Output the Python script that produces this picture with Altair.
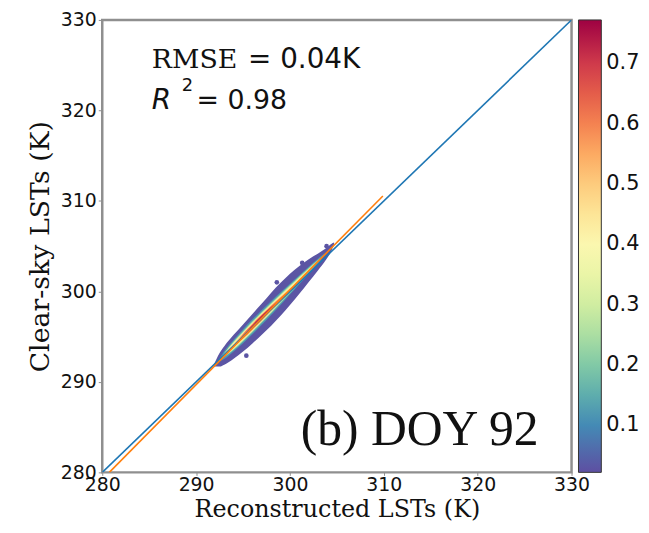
import altair as alt
import pandas as pd

# ---------------- data ----------------
x_ticks = [280, 290, 300, 310, 320, 330]
y_ticks = [280, 290, 300, 310, 320, 330]
cbar_ticks = [0.1, 0.2, 0.3, 0.4, 0.5, 0.6, 0.7]
cbar_domain = [0.022, 0.772]

# outer (lowest density) envelope of the scatter cloud
outer_level = 0.03
outer_x = [291.9, 292.5, 293.0, 294.0, 295.0, 296.0, 297.0, 298.0, 299.0, 300.0, 301.0, 302.0, 303.0, 303.8, 304.4, 304.7]
outer_hi = [291.9, 293.2, 293.95, 295.2, 296.35, 297.5, 298.65, 299.85, 300.95, 301.95, 302.8, 303.55, 304.2, 304.75, 305.25, 305.4]
outer_lo = [291.7, 291.7, 291.9, 292.55, 293.35, 294.25, 295.2, 296.2, 297.3, 298.5, 299.75, 301.05, 302.35, 303.45, 304.45, 305.2]

# inner density bands (density level, x positions, band centre, band half-height)
band_levels = [0.12, 0.22, 0.32, 0.42, 0.52, 0.62, 0.72]
band_x = [
    [292.2, 293.0, 294.0, 295.0, 296.0, 297.0, 298.0, 299.0, 300.0, 301.0, 302.0, 303.0, 304.0],
    [292.5, 293.5, 294.5, 295.5, 296.5, 297.5, 298.5, 299.5, 300.5, 301.5, 302.5, 303.5],
    [292.6, 293.5, 294.5, 295.5, 296.5, 297.5, 298.5, 299.5, 300.5, 301.5, 302.5, 303.2],
    [292.9, 293.5, 294.5, 295.5, 296.5, 297.5, 298.5, 299.5, 300.5, 301.5, 302.6],
    [293.8, 294.5, 295.5, 296.5, 297.5, 298.5, 299.5, 300.4],
    [294.4, 295.0, 296.0, 297.0, 298.0, 299.0, 299.6],
    [295.1, 295.8, 296.5, 297.2, 297.9, 298.5],
]
band_mid = [
    [292.14, 292.97, 294.01, 295.05, 296.09, 297.13, 298.17, 299.21, 300.25, 301.29, 302.33, 303.37, 304.41],
    [292.45, 293.49, 294.53, 295.57, 296.61, 297.65, 298.69, 299.73, 300.77, 301.81, 302.85, 303.89],
    [292.55, 293.49, 294.53, 295.57, 296.61, 297.65, 298.69, 299.73, 300.77, 301.81, 302.85, 303.58],
    [292.87, 293.49, 294.53, 295.57, 296.61, 297.65, 298.69, 299.73, 300.77, 301.81, 302.95],
    [293.80, 294.53, 295.57, 296.61, 297.65, 298.69, 299.73, 300.67],
    [294.43, 295.05, 296.09, 297.13, 298.17, 299.21, 299.83],
    [295.15, 295.88, 296.61, 297.34, 298.07, 298.69],
]
band_half = [
    [0.0, 0.45, 0.65, 0.78, 0.82, 0.82, 0.78, 0.7, 0.6, 0.5, 0.4, 0.28, 0.0],
    [0.0, 0.38, 0.55, 0.62, 0.62, 0.6, 0.56, 0.5, 0.42, 0.33, 0.22, 0.0],
    [0.0, 0.3, 0.44, 0.5, 0.5, 0.48, 0.44, 0.38, 0.3, 0.22, 0.12, 0.0],
    [0.0, 0.22, 0.35, 0.42, 0.42, 0.4, 0.35, 0.28, 0.2, 0.12, 0.0],
    [0.0, 0.24, 0.34, 0.36, 0.33, 0.26, 0.15, 0.0],
    [0.0, 0.22, 0.29, 0.28, 0.22, 0.12, 0.0],
    [0.0, 0.15, 0.2, 0.18, 0.12, 0.0],
]

# scattered outlier points at the cloud edge
outlier_x = [295.35, 301.3, 298.6, 303.9]
outlier_y = [292.9, 303.15, 301.0, 305.0]

# reference lines
line11_x = [280.0, 330.0]
line11_y = [280.0, 330.0]
fit_x = [280.75, 309.9]
fit_y = [280.0, 310.55]

x_title = "Reconstructed LSTs (K)"
y_title = "Clear-sky LSTs (K)"
rmse_label = "RMSE"
rmse_value = "= 0.04K"
r2_symbol = "R"
r2_power = "2"
r2_value = "= 0.98"
panel_label = "(b) DOY 92"

# ---------------- tables ----------------
rows = []
for xv, hv, lv in zip(outer_x, outer_hi, outer_lo):
    rows.append({"band": 0, "x": xv, "hi": hv, "lo": lv, "level": outer_level})
for i, lev in enumerate(band_levels):
    for xv, mv, hv in zip(band_x[i], band_mid[i], band_half[i]):
        rows.append({"band": i + 1, "x": xv, "hi": mv + hv, "lo": mv - hv, "level": lev})
cloud = pd.DataFrame(rows)
outliers = pd.DataFrame({"x": outlier_x, "y": outlier_y, "level": [outer_level] * len(outlier_x)})
l11 = pd.DataFrame({"x": line11_x, "y": line11_y})
lfit = pd.DataFrame({"x": fit_x, "y": fit_y})

# ---------------- encodings ----------------
PLOT_W, PLOT_H = 473, 456
xscale = alt.Scale(domain=[280, 330], nice=False, zero=False)
yscale = alt.Scale(domain=[280, 330], nice=False, zero=False)
xaxis = alt.Axis(values=x_ticks, title=None, format="d", labelFlush=False, labelOverlap=False,
                 labelPadding=0, tickSize=3)
yaxis = alt.Axis(values=y_ticks, title=y_title, format="d", labelFlush=False, labelOverlap=False,
                 labelPadding=2, titlePadding=6, tickSize=4)

color = alt.Color(
    "level:Q",
    scale=alt.Scale(scheme="spectral", reverse=True, domain=cbar_domain),
    legend=alt.Legend(
        title=None, orient="right", offset=7, padding=0, direction="vertical", type="gradient",
        gradientLength=PLOT_H, gradientThickness=23, values=cbar_ticks, format=".1f",
        labelFont="DejaVu Sans", labelFontSize=21, labelColor="#111111", labelOffset=5,
        gradientStrokeColor="#333333", gradientStrokeWidth=1, labelOverlap=False,
    ),
)

X = lambda f: alt.X(f, scale=xscale, axis=xaxis)
Y = lambda f: alt.Y(f, scale=yscale, axis=yaxis)

layers = []
for b in range(len(band_levels) + 1):
    layers.append(
        alt.Chart(cloud)
        .transform_filter(alt.datum.band == b)
        .mark_area(interpolate="monotone")
        .encode(x=X("x:Q"), y=Y("hi:Q"), y2="lo:Q", color=color)
    )

layers.append(
    alt.Chart(outliers).mark_circle(size=22, opacity=1).encode(x=X("x:Q"), y=Y("y:Q"), color=color)
)
layers.append(
    alt.Chart(l11).mark_line(color="#1f77b4", strokeWidth=1.6, clip=True).encode(x=X("x:Q"), y=Y("y:Q"))
)
layers.append(
    alt.Chart(lfit).mark_line(color="#ff7f0e", strokeWidth=1.6, clip=True).encode(x=X("x:Q"), y=Y("y:Q"))
)


def label(s, x, y, font, size, style="normal", align="left"):
    return alt.Chart(pd.DataFrame({"t": [s]})).mark_text(
        font=font, fontSize=size, fontStyle=style, align=align, baseline="alphabetic", color="#111111"
    ).encode(x=alt.value(x), y=alt.value(y), text="t:N")


layers += [
    label(rmse_label, 50, 48, "DejaVu Serif", 27),
    label(rmse_value, 147, 48, "DejaVu Sans", 28),
    label(r2_symbol, 50, 90, "DejaVu Sans", 28, "italic"),
    label(r2_power, 80, 72, "DejaVu Sans", 18),
    label(r2_value, 95, 90, "DejaVu Sans", 27),
    label(panel_label, 200, 428, "Liberation Serif", 50),
    label(x_title, 237, 501, "DejaVu Serif", 24, align="center"),
]

chart = (
    alt.layer(*layers)
    .properties(width=PLOT_W, height=PLOT_H, autosize="none",
                padding={"left": 95, "top": 10, "right": 70, "bottom": 51})
    .configure_view(stroke="#8f8f8f", strokeWidth=2.5)
    .configure_axis(
        domain=False, grid=False, tickColor="#8f8f8f", tickWidth=1,
        labelFont="DejaVu Sans", labelFontSize=19, labelColor="#111111",
        titleFont="DejaVu Serif", titleFontSize=27, titleFontWeight="normal", titleColor="#111111",
    )
)

chart.save("out.html", embed_options={"renderer": "svg", "actions": False})
